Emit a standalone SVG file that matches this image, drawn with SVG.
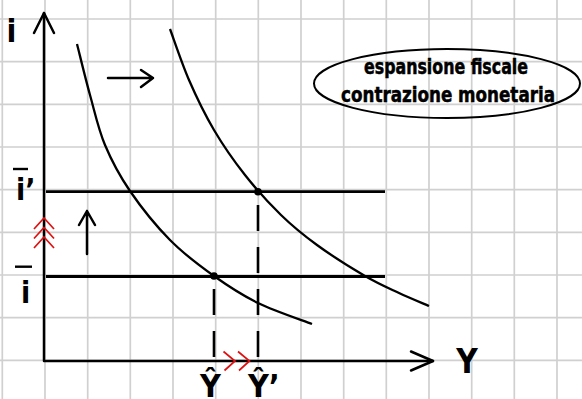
<svg xmlns="http://www.w3.org/2000/svg" width="582" height="399" viewBox="0 0 582 399">
<style>
.grid{stroke:#d0d0d0;stroke-width:1.7;fill:none}
.axis{stroke:#000;stroke-width:2.5;fill:none;stroke-linecap:round;stroke-linejoin:round}
.curve{stroke:#000;stroke-width:2.3;fill:none}
.hline{stroke:#000;stroke-width:2.8;fill:none}
.dash{stroke:#000;stroke-width:2.6;fill:none;stroke-dasharray:26 16}
.red{stroke:#e01010;stroke-width:1.7;fill:none}
.bar{stroke:#000;stroke-width:2.4}
.lbl{font-family:"DejaVu Sans Condensed","DejaVu Sans",sans-serif;font-weight:bold;fill:#000}
.note{font-family:"DejaVu Sans Condensed","DejaVu Sans",sans-serif;font-weight:bold;fill:#000;stroke:#000;stroke-width:0.5}
</style>
<rect width="582" height="399" fill="#fff"/>
<g id="grid" class="grid">
<path d="M2.3,0V399M45,0V399M87.7,0V399M130.3,0V399M173,0V399M215.7,0V399M258.3,0V399M301,0V399M343.7,0V399M386.3,0V399M429,0V399M471.7,0V399M514.3,0V399M557,0V399"/>
<path d="M0,19H582M0,61.7H582M0,104.3H582M0,147H582M0,189.7H582M0,232.3H582M0,275H582M0,317.7H582M0,360.3H582"/>
</g>
<g id="connectors">
<g id="axes" class="axis">
<path d="M44,13V361H433"/>
<path d="M34,33L44,13L54,33"/>
<path d="M411,351.5L433,361L411,370.5"/>
</g>
<g id="shift-arrows" class="axis">
<path d="M108,78H153M141,70L153,78L141,87"/>
<path d="M87,254V211M79,225L87,211L95,225"/>
</g>
<g id="levels" class="hline">
<path d="M46,191.7H385"/>
<path d="M46,276.5H385"/>
</g>
<g id="dashes" class="dash">
<path d="M258,357V198"/>
<path d="M214,357V280"/>
</g>
<g id="red-chevrons" class="red">
<path d="M34,229L44,218L54,229M34,238.5L44,227.5L54,238.5M34,248L44,237L54,248"/>
<path d="M223.5,351.5L235,361L224.5,370.5M238,351.5L249.5,361L239,370.5"/>
</g>
</g>
<g id="curve-1">
<path class="curve" d="M77,44 C79.2,52.5 85.3,78.2 90,95 C94.7,111.8 98.3,129 105,145 C111.7,161 119.2,175.2 130,191 C140.8,206.8 156,225.8 170,240 C184,254.2 199.3,265.5 214,276 C228.7,286.5 241.7,295 258,303 C274.3,311 303,320.5 312,324"/>
</g>
<g id="curve-2">
<path class="curve" d="M170,29 C173.2,37.5 181.7,63.2 189,80 C196.3,96.8 204.7,114.2 214,130 C223.3,145.8 233.8,160.8 245,175 C256.2,189.2 269,203.3 281,215 C293,226.7 303,234.8 317,245 C331,255.2 351.3,268 365,276 C378.7,284 388.3,288 399,293 C409.7,298 424,303.8 429,306"/>
</g>
<g id="points">
<circle cx="214" cy="276" r="3.8"/>
<circle cx="258" cy="191.7" r="3.8"/>
</g>
<g id="label-i"><text class="lbl" x="11.5" y="42" font-size="32" text-anchor="middle">i</text></g>
<g id="label-Y"><text class="lbl" x="467" y="373" font-size="33" text-anchor="middle">Y</text></g>
<g id="label-ibar-prime">
<line class="bar" x1="13" y1="169" x2="28" y2="169"/>
<text class="lbl" x="16" y="200" font-size="30">i’</text>
</g>
<g id="label-ibar">
<line class="bar" x1="15" y1="266.7" x2="32" y2="266.7"/>
<text class="lbl" x="25.5" y="303" font-size="30" text-anchor="middle">i</text>
</g>
<g id="label-Yhat"><text class="lbl" x="210.5" y="397" font-size="32" text-anchor="middle">Ŷ</text></g>
<g id="label-Yhat-prime"><text class="lbl" x="248" y="397" font-size="32">Ŷ’</text></g>
<g id="note">
<ellipse cx="447" cy="83.5" rx="133" ry="34.5" fill="none" stroke="#000" stroke-width="2"/>
<text class="note" x="364" y="74" font-size="21" textLength="164" lengthAdjust="spacingAndGlyphs">espansione fiscale</text>
<text class="note" x="341" y="102" font-size="22" textLength="214" lengthAdjust="spacingAndGlyphs">contrazione monetaria</text>
</g>
</svg>
